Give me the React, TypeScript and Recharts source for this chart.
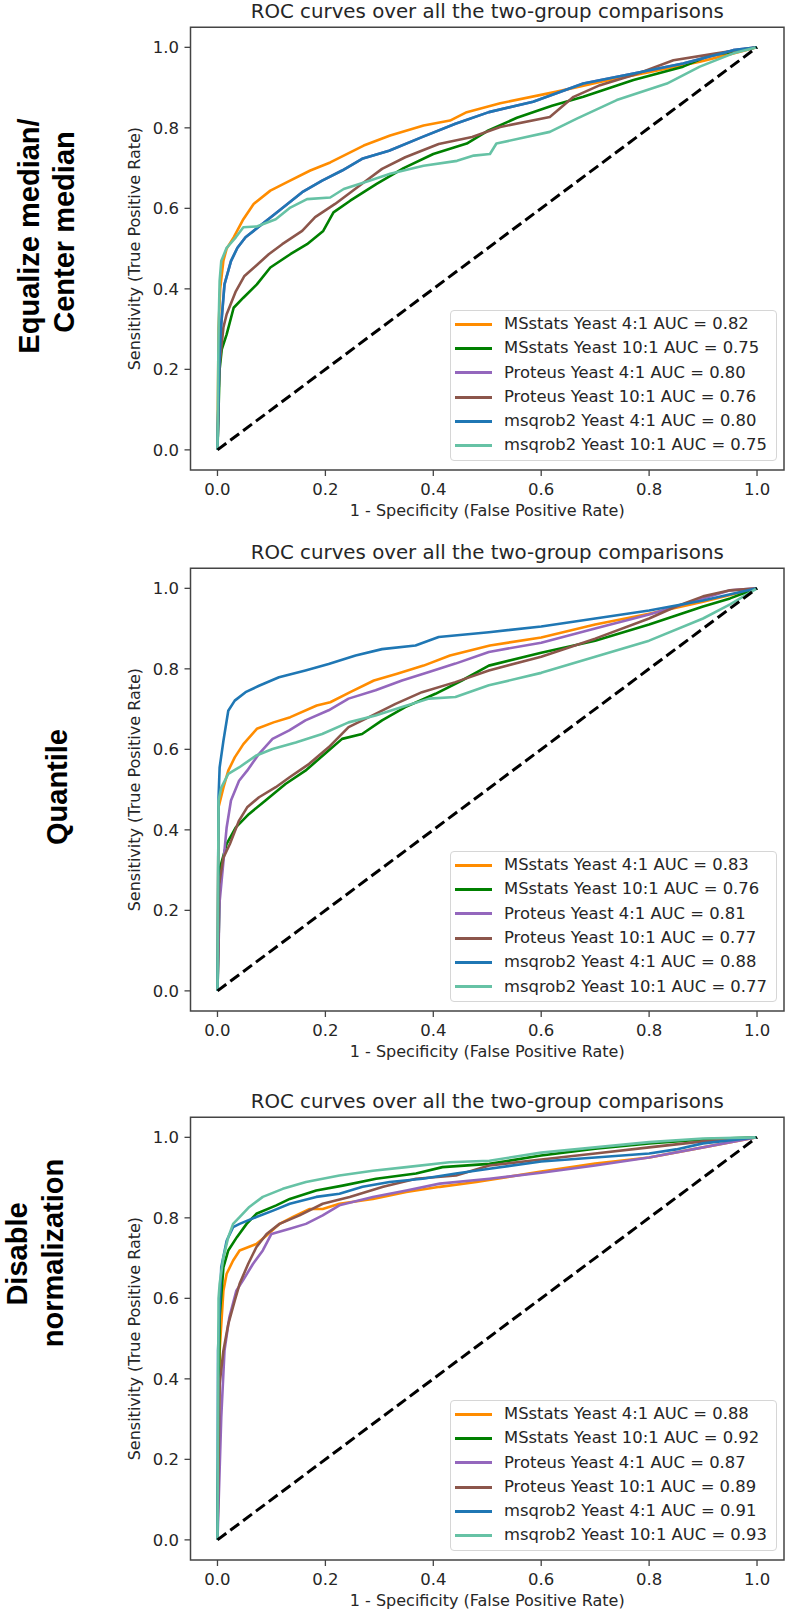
import React from "react";
import { LineChart, Line, XAxis, YAxis, ReferenceArea, Legend, Label } from "recharts";

type Pt = [number, number];

const FONT = "'DejaVu Sans', sans-serif";
const TEXT = "#262626";
const SPINE = "#444";

const TICKS = [0, 0.2, 0.4, 0.6, 0.8, 1.0];
const TITLE = "ROC curves over all the two-group comparisons";
const X_LABEL = "1 - Specificity (False Positive Rate)";
const Y_LABEL = "Sensitivity (True Positive Rate)";

const SERIES_NAMES = [
  "MSstats Yeast 4:1",
  "MSstats Yeast 10:1",
  "Proteus Yeast 4:1",
  "Proteus Yeast 10:1",
  "msqrob2 Yeast 4:1",
  "msqrob2 Yeast 10:1",
];
const SERIES_COLORS = ["#ff8c00", "#008000", "#9467bd", "#8c564b", "#1f77b4", "#66c2a5"];

const AUC_EQUALIZE = [0.82, 0.75, 0.8, 0.76, 0.8, 0.75];
const AUC_QUANTILE = [0.83, 0.76, 0.81, 0.77, 0.88, 0.77];
const AUC_DISABLE = [0.88, 0.92, 0.87, 0.89, 0.91, 0.93];

const DIAGONAL: Pt[] = [[0, 0], [1, 1]];

// --- Equalize median / Center median ---
const EQ_MSSTATS_4: Pt[] = [[0, 0], [0.002, 0.3], [0.005, 0.4], [0.011, 0.47], [0.017, 0.5], [0.03, 0.528], [0.048, 0.573], [0.067, 0.611], [0.098, 0.644], [0.129, 0.665], [0.172, 0.694], [0.209, 0.714], [0.271, 0.756], [0.32, 0.781], [0.382, 0.806], [0.431, 0.818], [0.462, 0.839], [0.524, 0.861], [0.629, 0.89], [0.709, 0.914], [0.802, 0.939], [0.894, 0.964], [0.956, 0.985], [1, 1]];
const EQ_MSSTATS_10: Pt[] = [[0, 0], [0.004, 0.2], [0.008, 0.25], [0.017, 0.287], [0.03, 0.353], [0.048, 0.378], [0.073, 0.411], [0.098, 0.453], [0.135, 0.486], [0.166, 0.511], [0.196, 0.544], [0.215, 0.59], [0.246, 0.619], [0.295, 0.661], [0.345, 0.7], [0.4, 0.735], [0.462, 0.761], [0.5, 0.792], [0.555, 0.825], [0.62, 0.855], [0.678, 0.877], [0.771, 0.919], [0.863, 0.952], [0.907, 0.977], [1, 1]];
const EQ_MSQROB_4: Pt[] = [[0, 0], [0.003, 0.2], [0.0065, 0.304], [0.013, 0.411], [0.025, 0.469], [0.037, 0.502], [0.052, 0.528], [0.083, 0.561], [0.114, 0.594], [0.157, 0.64], [0.194, 0.669], [0.231, 0.694], [0.268, 0.723], [0.318, 0.743], [0.379, 0.777], [0.441, 0.81], [0.503, 0.839], [0.585, 0.865], [0.678, 0.91], [0.771, 0.935], [0.863, 0.96], [0.956, 0.993], [1, 1]];
// Proteus 4:1 lies exactly under msqrob2 4:1 in this panel
const EQ_PROTEUS_4: Pt[] = EQ_MSQROB_4;
const EQ_PROTEUS_10: Pt[] = [[0, 0], [0.003, 0.2], [0.011, 0.304], [0.017, 0.337], [0.034, 0.394], [0.05, 0.432], [0.071, 0.457], [0.095, 0.486], [0.12, 0.511], [0.157, 0.544], [0.181, 0.578], [0.218, 0.611], [0.268, 0.661], [0.305, 0.698], [0.348, 0.727], [0.41, 0.76], [0.472, 0.777], [0.524, 0.802], [0.616, 0.827], [0.66, 0.877], [0.709, 0.906], [0.771, 0.931], [0.845, 0.968], [0.925, 0.985], [1, 1]];
const EQ_MSQROB_10: Pt[] = [[0, 0], [0.002, 0.3], [0.004, 0.42], [0.007, 0.469], [0.017, 0.502], [0.034, 0.528], [0.048, 0.553], [0.073, 0.555], [0.108, 0.573], [0.135, 0.602], [0.166, 0.623], [0.209, 0.627], [0.234, 0.648], [0.283, 0.669], [0.32, 0.686], [0.382, 0.706], [0.444, 0.718], [0.475, 0.731], [0.505, 0.735], [0.517, 0.761], [0.616, 0.79], [0.666, 0.823], [0.74, 0.869], [0.833, 0.91], [0.894, 0.952], [0.956, 0.985], [1, 1]];

// --- Quantile ---
const Q_MSSTATS_4: Pt[] = [[0, 0], [0.002, 0.456], [0.011, 0.505], [0.02, 0.547], [0.032, 0.58], [0.048, 0.613], [0.073, 0.651], [0.104, 0.667], [0.135, 0.68], [0.184, 0.709], [0.209, 0.717], [0.246, 0.742], [0.29, 0.771], [0.333, 0.788], [0.382, 0.808], [0.431, 0.833], [0.505, 0.858], [0.6, 0.878], [0.7, 0.91], [0.8, 0.937], [0.9, 0.967], [1, 1]];
const Q_MSSTATS_10: Pt[] = [[0, 0], [0.005, 0.307], [0.017, 0.365], [0.034, 0.406], [0.058, 0.439], [0.089, 0.473], [0.126, 0.514], [0.163, 0.547], [0.206, 0.597], [0.231, 0.626], [0.268, 0.638], [0.305, 0.672], [0.348, 0.705], [0.404, 0.738], [0.453, 0.771], [0.503, 0.808], [0.6, 0.84], [0.7, 0.87], [0.8, 0.91], [0.9, 0.955], [0.95, 0.975], [1, 1]];
const Q_PROTEUS_4: Pt[] = [[0, 0], [0.004, 0.222], [0.017, 0.406], [0.025, 0.473], [0.04, 0.522], [0.055, 0.547], [0.077, 0.589], [0.102, 0.626], [0.133, 0.647], [0.163, 0.672], [0.206, 0.697], [0.243, 0.726], [0.293, 0.747], [0.342, 0.771], [0.392, 0.792], [0.441, 0.813], [0.503, 0.842], [0.6, 0.865], [0.7, 0.9], [0.8, 0.935], [0.9, 0.975], [0.95, 0.995], [1, 1]];
const Q_PROTEUS_10: Pt[] = [[0, 0], [0.003, 0.265], [0.011, 0.331], [0.023, 0.365], [0.04, 0.423], [0.055, 0.456], [0.077, 0.481], [0.108, 0.506], [0.133, 0.53], [0.17, 0.564], [0.206, 0.605], [0.243, 0.655], [0.293, 0.688], [0.33, 0.713], [0.379, 0.742], [0.441, 0.767], [0.503, 0.796], [0.6, 0.83], [0.7, 0.875], [0.8, 0.925], [0.85, 0.955], [0.9, 0.98], [0.95, 0.995], [1, 1]];
const Q_MSQROB_4: Pt[] = [[0, 0], [0.002, 0.481], [0.004, 0.555], [0.011, 0.621], [0.02, 0.696], [0.032, 0.721], [0.052, 0.742], [0.077, 0.758], [0.114, 0.779], [0.163, 0.796], [0.206, 0.812], [0.256, 0.833], [0.305, 0.849], [0.367, 0.858], [0.41, 0.879], [0.503, 0.891], [0.6, 0.905], [0.7, 0.925], [0.8, 0.945], [0.9, 0.97], [1, 1]];
const Q_MSQROB_10: Pt[] = [[0, 0], [0.002, 0.473], [0.007, 0.505], [0.02, 0.539], [0.04, 0.555], [0.071, 0.584], [0.102, 0.601], [0.145, 0.617], [0.194, 0.638], [0.243, 0.667], [0.293, 0.684], [0.342, 0.705], [0.392, 0.726], [0.441, 0.73], [0.503, 0.759], [0.6, 0.79], [0.7, 0.83], [0.8, 0.87], [0.9, 0.925], [0.95, 0.96], [1, 1]];

// --- Disable normalization ---
const N_MSSTATS_4: Pt[] = [[0, 0], [0.004, 0.47], [0.011, 0.619], [0.017, 0.661], [0.029, 0.694], [0.041, 0.719], [0.072, 0.735], [0.091, 0.756], [0.115, 0.785], [0.14, 0.802], [0.171, 0.822], [0.195, 0.822], [0.226, 0.835], [0.288, 0.847], [0.35, 0.864], [0.412, 0.877], [0.48, 0.889], [0.6, 0.915], [0.7, 0.935], [0.8, 0.95], [0.9, 0.975], [1, 1]];
const N_MSSTATS_10: Pt[] = [[0, 0], [0.004, 0.553], [0.011, 0.677], [0.02, 0.719], [0.036, 0.752], [0.054, 0.785], [0.072, 0.81], [0.109, 0.831], [0.134, 0.847], [0.183, 0.868], [0.232, 0.88], [0.294, 0.897], [0.368, 0.91], [0.417, 0.926], [0.504, 0.934], [0.6, 0.955], [0.7, 0.972], [0.8, 0.985], [0.9, 0.995], [1, 1]];
const N_PROTEUS_4: Pt[] = [[0, 0], [0.007, 0.304], [0.013, 0.47], [0.022, 0.553], [0.035, 0.619], [0.047, 0.644], [0.066, 0.686], [0.084, 0.719], [0.1, 0.76], [0.134, 0.773], [0.164, 0.785], [0.195, 0.806], [0.226, 0.831], [0.288, 0.852], [0.35, 0.868], [0.412, 0.885], [0.504, 0.897], [0.6, 0.912], [0.7, 0.93], [0.8, 0.95], [0.9, 0.975], [1, 1]];
const N_PROTEUS_10: Pt[] = [[0, 0], [0.004, 0.387], [0.011, 0.47], [0.02, 0.536], [0.032, 0.594], [0.041, 0.636], [0.057, 0.686], [0.072, 0.727], [0.091, 0.76], [0.115, 0.785], [0.152, 0.806], [0.195, 0.835], [0.245, 0.852], [0.307, 0.877], [0.368, 0.897], [0.442, 0.905], [0.504, 0.93], [0.6, 0.945], [0.7, 0.96], [0.8, 0.975], [0.9, 0.99], [1, 1]];
const N_MSQROB_4: Pt[] = [[0, 0], [0.001, 0.47], [0.007, 0.677], [0.017, 0.743], [0.029, 0.777], [0.041, 0.785], [0.072, 0.802], [0.103, 0.818], [0.134, 0.835], [0.183, 0.852], [0.226, 0.86], [0.269, 0.877], [0.319, 0.889], [0.38, 0.897], [0.442, 0.91], [0.504, 0.922], [0.6, 0.94], [0.7, 0.95], [0.8, 0.96], [0.85, 0.97], [0.9, 0.985], [1, 1]];
const N_MSQROB_10: Pt[] = [[0, 0], [0.002, 0.6], [0.004, 0.636], [0.011, 0.702], [0.02, 0.752], [0.029, 0.785], [0.041, 0.802], [0.059, 0.827], [0.084, 0.852], [0.121, 0.872], [0.164, 0.889], [0.226, 0.905], [0.288, 0.917], [0.35, 0.926], [0.43, 0.938], [0.504, 0.942], [0.6, 0.962], [0.7, 0.975], [0.8, 0.988], [0.9, 0.997], [1, 1]];

const PANELS = [
  {
    top: 0,
    aucs: AUC_EQUALIZE,
    curves: [EQ_MSSTATS_4, EQ_MSSTATS_10, EQ_PROTEUS_4, EQ_PROTEUS_10, EQ_MSQROB_4, EQ_MSQROB_10],
  },
  {
    top: 541.1,
    aucs: AUC_QUANTILE,
    curves: [Q_MSSTATS_4, Q_MSSTATS_10, Q_PROTEUS_4, Q_PROTEUS_10, Q_MSQROB_4, Q_MSQROB_10],
  },
  {
    top: 1090,
    aucs: AUC_DISABLE,
    curves: [N_MSSTATS_4, N_MSSTATS_10, N_PROTEUS_4, N_PROTEUS_10, N_MSQROB_4, N_MSQROB_10],
  },
];

// row labels: [text, baseline x, centre y]
const ROW_LABELS: [string, number, number][] = [
  ["Equalize median/", 38.5, 236],
  ["Center median", 74, 232],
  ["Quantile", 67, 787],
  ["Disable", 27, 1254],
  ["normalization", 63, 1253],
];

const toPts = (a: Pt[]) => a.map(([x, y]) => ({ x, y }));
const fmt = (v: number) => v.toFixed(1);

const renderTitle = (props: any) => {
  const { x, y, width } = props.viewBox;
  return (
    <text x={x + width / 2} y={y - 9.5} textAnchor="middle" fontFamily={FONT} fontSize={19.8} fill={TEXT}>
      {TITLE}
    </text>
  );
};

const renderXLabel = (props: any) => {
  const { x, y, width } = props.viewBox;
  return (
    <text x={x + width / 2} y={y + 46} textAnchor="middle" fontFamily={FONT} fontSize={16} fill={TEXT}>
      {X_LABEL}
    </text>
  );
};

const renderYLabel = (props: any) => {
  const { x, y, width, height } = props.viewBox;
  const cx = x + width - 50;
  const cy = y + height / 2;
  return (
    <text x={cx} y={cy} transform={`rotate(-90 ${cx} ${cy})`} textAnchor="middle" fontFamily={FONT} fontSize={16} fill={TEXT}>
      {Y_LABEL}
    </text>
  );
};

function PanelLegend({ aucs }: { aucs: number[] }) {
  return (
    <div
      style={{
        width: 327,
        height: 151,
        boxSizing: "border-box",
        border: "1px solid #d6d6d6",
        borderRadius: 4,
        background: "rgba(255,255,255,0.85)",
        paddingTop: 1,
        fontFamily: FONT,
        fontSize: 16.4,
        color: TEXT,
      }}
    >
      {SERIES_NAMES.map((name, i) => (
        <div key={name} style={{ height: 24.3, display: "flex", alignItems: "center" }}>
          <span style={{ display: "inline-block", width: 37, height: 3, marginLeft: 4, background: SERIES_COLORS[i] }} />
          <span style={{ marginLeft: 12, whiteSpace: "nowrap", lineHeight: 1 }}>
            {`${name} AUC = ${aucs[i].toFixed(2)}`}
          </span>
        </div>
      ))}
    </div>
  );
}

function RocPanel({ top, aucs, curves }: { top: number; aucs: number[]; curves: Pt[][] }) {
  return (
    <div style={{ position: "absolute", left: 0, top }}>
      <LineChart width={787} height={530} margin={{ top: 27.2, right: 3, bottom: 0, left: 0 }}>
        <XAxis
          type="number"
          dataKey="x"
          domain={[-0.05, 1.05]}
          ticks={TICKS}
          interval={0}
          allowDataOverflow
          height={60}
          tickSize={6}
          tickMargin={7}
          tickFormatter={fmt}
          axisLine={false}
          tickLine={{ stroke: SPINE, strokeWidth: 1.3 }}
          tick={{ fill: TEXT, fontSize: 16.5, fontFamily: FONT }}
          label={<Label content={renderXLabel} />}
        />
        <YAxis
          type="number"
          dataKey="y"
          domain={[-0.05, 1.05]}
          ticks={TICKS}
          interval={0}
          allowDataOverflow
          width={190.5}
          tickSize={6}
          tickMargin={5.5}
          tickFormatter={fmt}
          axisLine={false}
          tickLine={{ stroke: SPINE, strokeWidth: 1.3 }}
          tick={{ fill: TEXT, fontSize: 16.5, fontFamily: FONT }}
          label={<Label content={renderYLabel} />}
        />
        <ReferenceArea
          x1={-0.05}
          x2={1.05}
          y1={-0.05}
          y2={1.05}
          ifOverflow="visible"
          fill="none"
          fillOpacity={0}
          stroke={SPINE}
          strokeWidth={1.5}
          label={<Label content={renderTitle} />}
        />
        {curves.map((c, i) => (
          <Line
            key={SERIES_NAMES[i]}
            name={SERIES_NAMES[i]}
            data={toPts(c)}
            dataKey="y"
            type="linear"
            stroke={SERIES_COLORS[i]}
            strokeWidth={2.6}
            strokeLinejoin="round"
            dot={false}
            activeDot={false}
            isAnimationActive={false}
          />
        ))}
        <Line
          data={toPts(DIAGONAL)}
          dataKey="y"
          type="linear"
          stroke="#000"
          strokeWidth={3}
          strokeDasharray="11 5"
          dot={false}
          activeDot={false}
          legendType="none"
          isAnimationActive={false}
        />
        <Legend
          layout="vertical"
          align="center"
          verticalAlign="middle"
          wrapperStyle={{ left: 450, top: 310, width: 327, height: 151 }}
          content={() => <PanelLegend aucs={aucs} />}
        />
      </LineChart>
    </div>
  );
}

export default function App() {
  return (
    <div style={{ position: "absolute", left: 0, top: 0, width: 787, height: 1611, overflow: "hidden", background: "#fff" }}>
      {PANELS.map((p, i) => (
        <RocPanel key={i} top={p.top} aucs={p.aucs} curves={p.curves} />
      ))}
      <svg width={787} height={1611} style={{ position: "absolute", left: 0, top: 0, pointerEvents: "none" }}>
        {ROW_LABELS.map(([t, x, y]) => (
          <text
            key={t}
            x={x}
            y={y}
            transform={`rotate(-90 ${x} ${y})`}
            textAnchor="middle"
            fontFamily="'Liberation Sans', Arial, sans-serif"
            fontWeight="bold"
            fontSize={29}
            fill="#000"
          >
            {t}
          </text>
        ))}
      </svg>
    </div>
  );
}
